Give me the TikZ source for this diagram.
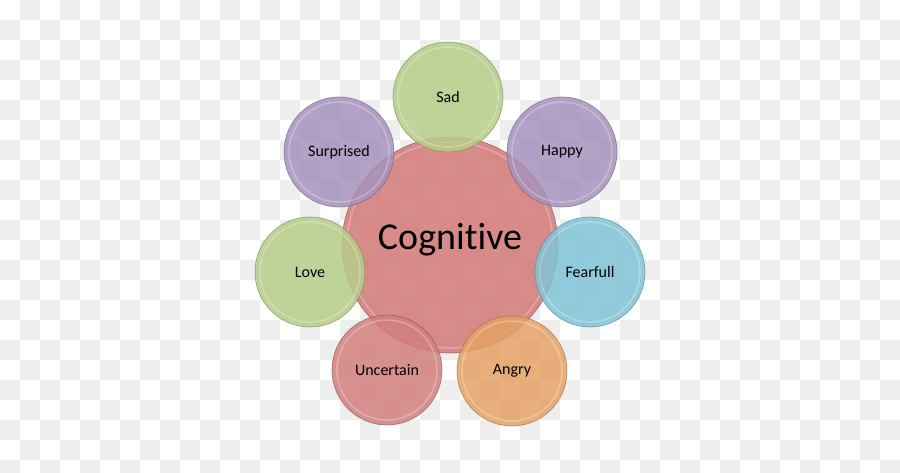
\documentclass[tikz,border=0pt]{standalone}
\usepackage{fontspec}
\setmainfont{Carlito}[Ligatures={NoCommon,NoRequired,NoContextual}]
\definecolor{checkgrey}{RGB}{238,238,238}
\definecolor{cogred}{RGB}{210,120,118}
\definecolor{sadgreen}{RGB}{182,205,136}
\definecolor{lilac}{RGB}{166,146,189}
\definecolor{skyblue}{RGB}{128,196,215}
\definecolor{peach}{RGB}{228,161,102}
\definecolor{rosered}{RGB}{210,126,126}
\tikzset{
  bubble/.style={circle, minimum size=#1, inner sep=0pt, fill opacity=0.85,
    text opacity=1, text=black, line width=0.7pt, draw opacity=0.7,
    path picture={\draw[white, opacity=0.25, line width=1.6pt]
      (path picture bounding box.center) circle ({#1/2-5pt});}},
  sat/.style={bubble=110pt, fill=#1, draw=#1!70!black, font=\fontsize{16}{19}\selectfont},
  hub/.style={bubble=216pt, fill=cogred, draw=cogred!70!black, font=\fontsize{38}{44}\selectfont}
}
\begin{document}
\begin{tikzpicture}[x=1pt,y=-1pt]
\useasboundingbox (0,0) rectangle (900,473);
\fill[white] (0,0) rectangle (900,473);
\begin{scope}
\clip (0,0) rectangle (900,473);
\foreach \i in {0,...,44}{
  \foreach \j in {0,...,23}{
    \pgfmathtruncatemacro{\myparity}{mod(\i+\j,2)}
    \ifnum\myparity=1
      \fill[checkgrey] (20*\i,20*\j) rectangle ++(20,20);
    \fi
  }
}
\end{scope}
\node[hub] (cog) at (450,245) {};
\node[text=black, font=\fontsize{38}{44}\selectfont] (cogt) at (450,240) {Cognitive};
\node[sat=sadgreen] (sad) at (448,97) {Sad};
\node[sat=lilac] (happy) at (562,152) {Happy};
\node[sat=skyblue] (fear) at (590,272) {Fearfull};
\node[sat=peach] (angry) at (512,371) {Angry};
\node[sat=rosered] (unc) at (387,370) {Uncertain};
\node[sat=sadgreen] (love) at (310,272) {Love};
\node[sat=lilac] (surp) at (339,152) {Surprised};
\end{tikzpicture}
\end{document}
